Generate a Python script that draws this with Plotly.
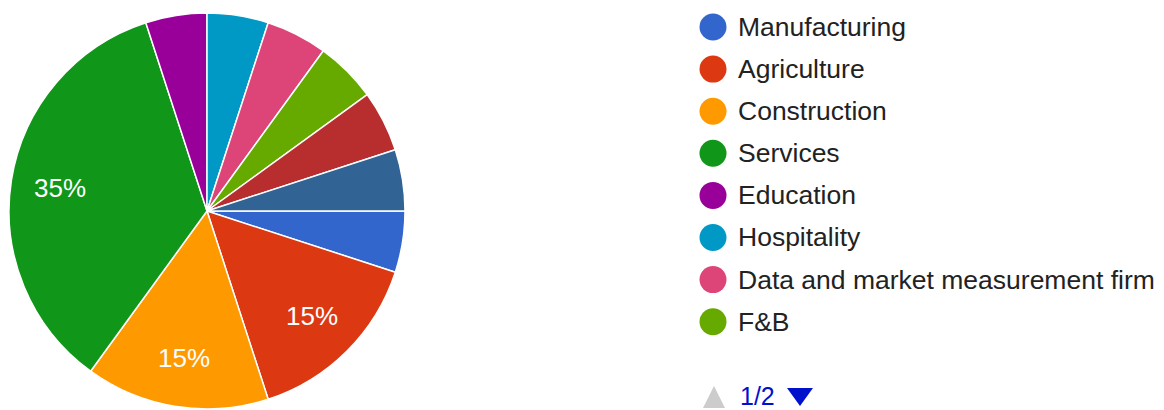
import math
import plotly.graph_objects as go

W, H = 1164, 410

labels = ["Manufacturing", "Agriculture", "Construction", "Services", "Education",
          "Hospitality", "Data and market measurement firm", "F&B", "Retail", "Others"]
values = [5, 15, 15, 35, 5, 5, 5, 5, 5, 5]
colors = ["#3366cc", "#dc3912", "#ff9900", "#109618", "#990099",
          "#0099c6", "#dd4477", "#66aa00", "#b82e2e", "#316395"]
min_label_pct = 10          # slices smaller than this carry no percentage label
legend_page_items = 8
page_label = "1/2"

FONT = "Liberation Sans, Arial, sans-serif"


def px(x):
    return x / W


def py(y):
    return 1 - y / H


# pie geometry (pixels)
cx, cy, r = 207, 211, 198
start_deg = 90  # first slice starts at 3 o'clock, clockwise

fig = go.Figure()
fig.add_trace(go.Pie(
    labels=labels, values=values, textinfo="none",
    sort=False, direction="clockwise", rotation=start_deg,
    marker=dict(colors=colors, line=dict(color="white", width=1.5)),
    showlegend=False, hoverinfo="label+percent",
    domain=dict(x=[px(cx - r), px(cx + r)], y=[max(0, py(cy + r)), py(cy - r)]),
))

annotations = []
shapes = []

# percentage labels placed at 0.75 of the radius along each slice's mid-angle
total = sum(values)
acc = 0
for v in values:
    pct = 100 * v / total
    mid = start_deg + 360 * (acc + v / 2) / total
    acc += v
    if pct < min_label_pct:
        continue
    a = math.radians(mid)
    R = 0.75 * r
    x = cx + R * math.sin(a)
    y = cy - R * math.cos(a)
    annotations.append(dict(x=px(x), y=py(y), xref="paper", yref="paper",
                            xanchor="center", yanchor="middle", showarrow=False,
                            text=f"{pct:.0f}%",
                            font=dict(family=FONT, size=26, color="white")))

# legend (page 1)
lx, tx, y0, dy = 713, 736, 27, 42.1
for i in range(legend_page_items):
    yy = y0 + i * dy
    shapes.append(dict(type="circle", xref="paper", yref="paper",
                       xsizemode="pixel", ysizemode="pixel",
                       xanchor=px(lx), yanchor=py(yy),
                       x0=-13.5, x1=13.5, y0=-13.5, y1=13.5,
                       fillcolor=colors[i], line=dict(width=0)))
    annotations.append(dict(x=px(tx), y=py(yy), xref="paper", yref="paper",
                            xanchor="left", yanchor="middle", showarrow=False,
                            text=labels[i], font=dict(family=FONT, size=26.5, color="#222222")))

# pagination
yy = 397
shapes.append(dict(type="path", xref="paper", yref="paper",
                   xsizemode="pixel", ysizemode="pixel",
                   xanchor=px(714), yanchor=py(yy),
                   path="M -11,-11 L 11,-11 L 0,11 Z",
                   fillcolor="#cccccc", line=dict(width=0)))
shapes.append(dict(type="path", xref="paper", yref="paper",
                   xsizemode="pixel", ysizemode="pixel",
                   xanchor=px(800), yanchor=py(yy),
                   path="M -13,9 L 13,9 L 0,-9 Z",
                   fillcolor="#0011cc", line=dict(width=0)))
annotations.append(dict(x=px(738), y=py(yy - 1), xref="paper", yref="paper",
                        xanchor="left", yanchor="middle", showarrow=False,
                        text=page_label, font=dict(family=FONT, size=25, color="#0011cc")))

fig.update_layout(
    width=W, height=H, margin=dict(l=0, r=0, t=0, b=0),
    paper_bgcolor="white", plot_bgcolor="white",
    shapes=shapes, annotations=annotations, showlegend=False,
)
fig.write_html("out.html", config={"displayModeBar": False},
               post_script="document.body.style.margin='0';document.body.style.overflow='hidden';")
